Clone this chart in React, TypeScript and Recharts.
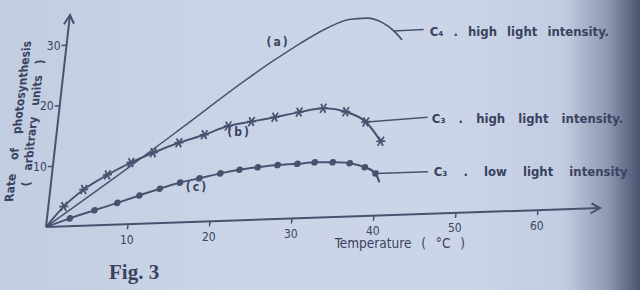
import React from "react"
import { LineChart, Line, XAxis, YAxis, ReferenceLine } from "recharts"

// C4, high light intensity (curve a)
const c4Temp = [0, 9.5, 15.4, 22.4, 25.8, 28.6, 31.4, 34.4, 36.3, 38.3, 39.9, 41.0]
const c4Rate = [0, 9.6, 15.8, 23.2, 26.5, 29.0, 31.2, 32.7, 32.8, 32.0, 30.5, 29.0]

// C3, high light intensity (curve b)
const c3HighTemp = [0, 1.9, 4.1, 6.8, 9.5, 12.1, 15.1, 18.1, 20.9, 23.7, 26.5, 29.4, 32.3, 35.1, 37.7, 39.8]
const c3HighRate = [0, 3.3, 6.0, 8.3, 10.2, 11.7, 13.2, 14.4, 15.7, 16.3, 16.9, 17.6, 18.1, 17.4, 15.6, 12.3]

// C3, low light intensity (curve c)
const c3LowTemp = [0, 2.8, 5.7, 8.4, 11.0, 13.4, 15.8, 18.1, 20.6, 22.9, 25.1, 27.5, 29.9, 32.0, 34.2, 36.3, 38.2, 39.6, 40.2]
const c3LowRate = [0, 1.3, 2.5, 3.6, 4.7, 5.7, 6.6, 7.2, 7.9, 8.4, 8.7, 8.95, 9.05, 9.2, 9.1, 8.85, 8.1, 7.0, 5.5]

const xTicks = [10, 20, 30, 40, 50, 60]
const yTicks = [10, 20, 30]

const seriesLabels = ["C\u2084 . high light intensity.", "C\u2083 . high light intensity.", "C\u2083 . low light intensity"]
const curveTags = ["(a)", "(b)", "(c)"]

const zip = (t: number[], v: number[]) => t.map((x, i) => ({ t: x, v: v[i] }))
const c4Data = zip(c4Temp, c4Rate)
const c3HighData = zip(c3HighTemp, c3HighRate)
const c3LowData = zip(c3LowTemp, c3LowRate)

const INK = "#48526f"
const TEXT = "#394260"
const FONT = "'DejaVu Sans Condensed', 'DejaVu Sans', sans-serif"

// the photo is skewed; horizontal lettering stays upright, so undo the skew around each text anchor
const upright = (x: number, y: number) =>
  `translate(${x},${y}) matrix(1.0039,0.0344,0.1134,1.0039,0,0) translate(${-x},${-y})`

const StarDot = (props: any) => {
  const { cx, cy, index } = props
  if (index === 0 || cx == null) return <g key={`s-${index}`} />
  const r = 4.5
  return (
    <g key={`s-${index}`} stroke={INK} strokeWidth={1.8}>
      <line x1={cx - r * 0.6} y1={cy - r} x2={cx + r * 0.6} y2={cy + r} />
      <line x1={cx - r * 0.6} y1={cy + r} x2={cx + r * 0.6} y2={cy - r} />
      <line x1={cx - r} y1={cy} x2={cx + r} y2={cy} />
    </g>
  )
}

const RoundDot = (props: any) => {
  const { cx, cy, index } = props
  if (index === 0 || index === c3LowData.length - 1 || cx == null) return <g key={`c-${index}`} />
  return <circle key={`c-${index}`} cx={cx} cy={cy} r={3.3} fill={INK} />
}

const XTick = (props: any) => {
  const { x, y, payload } = props
  return (
    <text x={x} y={y} dy="0.71em" textAnchor="middle" transform={upright(x, y)} fill={TEXT} fontSize={12} fontFamily={FONT}>
      {payload.value}
    </text>
  )
}

const YTick = (props: any) => {
  const { x, y, payload } = props
  return (
    <text x={x} y={y} dy="0.355em" textAnchor="end" transform={upright(x, y)} fill={TEXT} fontSize={12} fontFamily={FONT}>
      {payload.value}
    </text>
  )
}

const txt = { fill: TEXT, fontFamily: FONT, fontSize: 13, fontWeight: 600 as const }

export default function App() {
  return (
    <div
      style={{
        position: "absolute",
        left: 0,
        top: 0,
        width: 640,
        height: 290,
        overflow: "hidden",
        background:
          "linear-gradient(to right, #c2cde1 0%, #cbd4e7 35%, #ccd5e8 70%, #c3cde2 88%, #8e98b1 95%, #4b5470 100%)",
      }}
    >
      <div
        style={{
          position: "absolute",
          left: -20,
          top: 0,
          width: 680,
          height: 290,
          transform: "matrix(1, -0.0343, -0.113, 1, 0, 0)",
          transformOrigin: "66px 227px",
        }}
      >
        <LineChart width={680} height={290} margin={{ top: 15, right: 60, bottom: 0, left: 0 }}>
          <XAxis
            type="number"
            dataKey="t"
            domain={[0, 67.56]}
            ticks={xTicks}
            allowDataOverflow
            axisLine={{ stroke: INK, strokeWidth: 2 }}
            tickLine={{ stroke: INK, strokeWidth: 1.5 }}
            tickSize={5}
            tickMargin={6}
            height={63}
            tick={XTick}
          />
          <YAxis
            type="number"
            domain={[0, 35]}
            ticks={yTicks}
            allowDataOverflow
            axisLine={{ stroke: INK, strokeWidth: 2 }}
            tickLine={{ stroke: INK, strokeWidth: 1.5 }}
            tickSize={5}
            tickMargin={1}
            width={66}
            tick={YTick}
          />
          <Line data={c4Data} dataKey="v" type="monotone" stroke={INK} strokeWidth={1.6} dot={false} isAnimationActive={false} />
          <Line data={c3HighData} dataKey="v" type="monotone" stroke={INK} strokeWidth={2} dot={StarDot} isAnimationActive={false} />
          <Line data={c3LowData} dataKey="v" type="monotone" stroke={INK} strokeWidth={2} dot={RoundDot} isAnimationActive={false} />

          <ReferenceLine segment={[{ x: 39.8, y: 30.5 }, { x: 43.5, y: 30.6 }]} stroke={INK} strokeWidth={1.5} ifOverflow="visible" />
          <ReferenceLine segment={[{ x: 37.8, y: 15.6 }, { x: 45.2, y: 16.0 }]} stroke={INK} strokeWidth={1.5} ifOverflow="visible" />
          <ReferenceLine segment={[{ x: 39.6, y: 7.0 }, { x: 46.0, y: 7.0 }]} stroke={INK} strokeWidth={1.5} ifOverflow="visible" />

          <path d="M611,222 L620,227 L611,232" fill="none" stroke={INK} strokeWidth={2} />
          <path d="M61,24 L66,15 L71,24" fill="none" stroke={INK} strokeWidth={2} />

          <text x={429} y={44} dominantBaseline="central" transform={upright(429, 44)} style={{ ...txt, wordSpacing: 6 }}>
            {seriesLabels[0]}
          </text>
          <text x={441} y={131} dominantBaseline="central" transform={upright(441, 131)} style={{ ...txt, wordSpacing: 9 }}>
            {seriesLabels[1]}
          </text>
          <text x={449} y={185} dominantBaseline="central" transform={upright(449, 185)} style={{ ...txt, wordSpacing: 12 }}>
            {seriesLabels[2]}
          </text>

          <text x={278} y={49} textAnchor="middle" dominantBaseline="central" transform={upright(278, 49)} style={{ ...txt, fontSize: 12, letterSpacing: 2 }}>
            {curveTags[0]}
          </text>
          <text x={249} y={138} textAnchor="middle" dominantBaseline="central" transform={upright(249, 138)} style={{ ...txt, fontSize: 12, letterSpacing: 2 }}>
            {curveTags[1]}
          </text>
          <text x={213} y={192} textAnchor="middle" dominantBaseline="central" transform={upright(213, 192)} style={{ ...txt, fontSize: 12, letterSpacing: 2 }}>
            {curveTags[2]}
          </text>

          <text x={423} y={255} textAnchor="middle" dominantBaseline="central" transform={upright(423, 255)} style={{ ...txt, fontSize: 13.5, fontWeight: 400, wordSpacing: 6 }}>
            Temperature ( °C )
          </text>
          <text
            x={26}
            y={120}
            textAnchor="middle"
            dominantBaseline="central"
            transform="rotate(-90, 26, 120)"
            style={{ ...txt, fontSize: 12, wordSpacing: 10 }}
          >
            Rate of photosynthesis
          </text>
          <text
            x={41}
            y={122}
            textAnchor="middle"
            dominantBaseline="central"
            transform="rotate(-90, 41, 122)"
            style={{ ...txt, fontSize: 12, wordSpacing: 7 }}
          >
            ( arbitrary units )
          </text>
        </LineChart>
      </div>
      <div
        style={{
          position: "absolute",
          left: 109,
          top: 260,
          fontSize: 21,
          lineHeight: "24px",
          fontWeight: "bold",
          fontFamily: "'Liberation Serif', serif",
          color: TEXT,
        }}
      >
        Fig. 3
      </div>
    </div>
  )
}
